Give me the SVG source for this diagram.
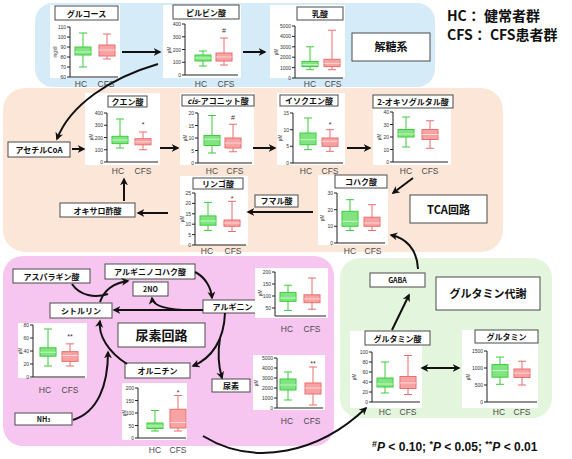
<svg xmlns="http://www.w3.org/2000/svg" width="572" height="459" viewBox="0 0 572 459">
<defs>
<marker id="ah" viewBox="0 0 10 10" refX="8" refY="5" markerWidth="4" markerHeight="4" orient="auto-start-reverse" markerUnits="strokeWidth">
<path d="M0,0L10,5L0,10L3,5z" fill="#111"/>
</marker>
<style>
.t{font-family:"Noto Sans CJK JP","Noto Sans",sans-serif;font-weight:bold;text-anchor:middle;fill:#111;font-size:8px}
.bx{fill:#fff;stroke:#4a4a4a;stroke-width:1}
.pn{fill:#fff}
.ax{fill:none;stroke:#222;stroke-width:1}
.tk{font-family:"Liberation Sans",sans-serif;font-size:5px;text-anchor:end;fill:#333}
.un{font-family:"Liberation Sans",sans-serif;font-size:4.5px;text-anchor:middle;fill:#333}
.xl{font-family:"Liberation Sans",sans-serif;font-size:8.5px;text-anchor:middle;fill:#4a4a4a}
.gw{stroke:#3ccb3c;stroke-width:1;fill:none}
.gb{fill:#80e580;stroke:#3ccb3c;stroke-width:1}
.gm{stroke:#c6f5c6;stroke-width:1}
.rw{stroke:#ec6d6d;stroke-width:1;fill:none}
.rb{fill:#f7a3a3;stroke:#ec6d6d;stroke-width:1}
.rm{stroke:#fcd5d5;stroke-width:1}
.sg{font-family:"Liberation Sans",sans-serif;font-size:7px;text-anchor:middle;fill:#333}
.c{fill:none;stroke:#111;stroke-width:2;marker-end:url(#ah)}
.big{font-size:11px}
.s7{font-size:7px}
.s13{font-size:13px}
</style>
</defs>
<rect width="572" height="459" fill="#fff"/>
<g id="regions">
<rect x="35" y="3" width="400" height="84" rx="18" fill="#d5ebf8"/>
<rect x="3" y="88" width="500" height="164" rx="22" fill="#fce6d8"/>
<rect x="3" y="256" width="331" height="190" rx="20" fill="#f7c6f0"/>
<rect x="340" y="258" width="212" height="160" rx="20" fill="#e3f5dc"/>
</g>
<g id="legend" font-family="'Noto Sans CJK JP',sans-serif" font-weight="bold" font-size="14" fill="#111">
<text x="447" y="21">HC： 健常者群</text>
<text x="447" y="40">CFS： CFS患者群</text>
</g>
<g id="glucose">
<rect class="pn" x="50" y="5" width="70" height="73"/>
<rect class="bx" x="55" y="6" width="63" height="14"/>
<text class="t" x="86.5" y="16.5">グルコース</text>
<path class="ax" d="M70,27V77H118M67,27h3M67,37h3M67,47h3M67,57h3M67,67h3M67,77h3"/>
<g class="tk"><text x="66" y="29">110</text><text x="66" y="39">100</text><text x="66" y="49">90</text><text x="66" y="59">80</text><text x="66" y="69">70</text><text x="66" y="79">60</text></g>
<text class="un" transform="translate(57,52) rotate(-90)">mg/dl</text>
<path class="gw" d="M83,33V67M79,33h8M79,67h8"/><rect class="gb" x="75" y="47" width="16" height="8"/><path class="gm" d="M75,52h16"/>
<path class="rw" d="M107,34V59M103,34h8M103,59h8"/><rect class="rb" x="99" y="45" width="16" height="11"/><path class="rm" d="M99,50h16"/>
<text class="xl" x="81" y="87">HC</text><text class="xl" x="106" y="87">CFS</text>
</g>
<g id="pyruvate">
<rect class="pn" x="163" y="5" width="78" height="73"/>
<rect class="bx" x="173" y="5" width="66" height="14"/>
<text class="t" x="206" y="15.5">ピルビン酸</text>
<path class="ax" d="M185,24V75H238M182,75h3M182,62.25h3M182,49.5h3M182,36.75h3M182,24h3"/>
<g class="tk"><text x="181" y="77">0</text><text x="181" y="64.25">100</text><text x="181" y="51.5">200</text><text x="181" y="38.75">300</text><text x="181" y="26">400</text></g>
<text class="un" transform="translate(171,50) rotate(-90)">µM</text>
<path class="gw" d="M203,51V66M199,51h8M199,66h8"/><rect class="gb" x="195" y="55" width="16" height="6"/><path class="gm" d="M195,58h16"/>
<path class="rw" d="M224,38V65M220,38h8M220,65h8"/><rect class="rb" x="216" y="53" width="16" height="8"/><path class="rm" d="M216,57h16"/>
<text class="sg" x="224" y="33">#</text>
<text class="xl" x="201" y="87">HC</text><text class="xl" x="226" y="87">CFS</text>
</g>
<g id="lactate">
<rect class="pn" x="270" y="5" width="75" height="73"/>
<rect class="bx" x="297" y="7" width="46" height="13"/>
<text class="t" x="320" y="17">乳酸</text>
<path class="ax" d="M295,26V78H343M292,78h3M292,67.6h3M292,57.2h3M292,46.8h3M292,36.4h3M292,26h3"/>
<g class="tk"><text x="291" y="80">0</text><text x="291" y="69.6">1000</text><text x="291" y="59.2">2000</text><text x="291" y="48.8">3000</text><text x="291" y="38.4">4000</text><text x="291" y="28">5000</text></g>
<text class="un" transform="translate(278,52) rotate(-90)">µM</text>
<path class="gw" d="M310,46.8V69.7M306,46.8h8M306,69.7h8"/><rect class="gb" x="302" y="61.4" width="16" height="5.2"/><path class="gm" d="M302,64.5h16"/>
<path class="rw" d="M332,30.2V69.7M328,30.2h8M328,69.7h8"/><rect class="rb" x="324" y="59.3" width="16" height="7.3"/><path class="rm" d="M324,63.4h16"/>
<text class="xl" x="310" y="87">HC</text><text class="xl" x="333" y="87">CFS</text>
</g>
<g id="glycolysis-label">
<rect class="bx" x="352" y="33" width="78" height="28"/>
<text class="t big" x="391" y="51">解糖系</text>
</g>
<g id="acetylcoa">
<rect class="bx" x="8" y="142" width="62" height="15"/>
<text class="t" x="39" y="152.5">アセチルCoA</text>
</g>
<g id="citrate">
<rect class="pn" x="85" y="93" width="75" height="72"/>
<rect class="bx" x="108" y="96" width="39" height="11"/>
<text class="t" x="127.5" y="104.5">クエン酸</text>
<path class="ax" d="M107,113V162H158M104,162h3M104,149.75h3M104,137.5h3M104,125.25h3M104,113h3"/>
<g class="tk"><text x="103" y="164">0</text><text x="103" y="151.75">100</text><text x="103" y="139.5">200</text><text x="103" y="127.25">300</text><text x="103" y="115">400</text></g>
<text class="un" transform="translate(93,137) rotate(-90)">µM</text>
<path class="gw" d="M120,119V148M116,119h8M116,148h8"/><rect class="gb" x="112" y="136.3" width="16" height="7.3"/><path class="gm" d="M112,140h16"/>
<path class="rw" d="M143,132V149.75M139,132h8M139,149.75h8"/><rect class="rb" x="135" y="138.7" width="16" height="6.15"/><path class="rm" d="M135,141.8h16"/>
<text class="sg" x="143" y="127">*</text>
<text class="xl" x="118" y="174">HC</text><text class="xl" x="143" y="174">CFS</text>
</g>
<g id="cis-aconitate">
<rect class="pn" x="180" y="93" width="74" height="72"/>
<rect class="bx" x="182" y="95" width="72" height="11"/>
<text class="t" x="218" y="103.5"><tspan font-style="italic">cis</tspan>-アコニット酸</text>
<path class="ax" d="M198,113V163H252M195,163h3M195,150.5h3M195,138h3M195,125.5h3M195,113h3"/>
<g class="tk"><text x="194" y="165">0</text><text x="194" y="152.5">5</text><text x="194" y="140">10</text><text x="194" y="127.5">15</text><text x="194" y="115">20</text></g>
<text class="un" transform="translate(187,138) rotate(-90)">µM</text>
<path class="gw" d="M212,115.5V153M208,115.5h8M208,153h8"/><rect class="gb" x="204" y="135.5" width="16" height="10"/><path class="gm" d="M204,139.25h16"/>
<path class="rw" d="M233,124.25V151.75M229,124.25h8M229,151.75h8"/><rect class="rb" x="225" y="138" width="16" height="10"/><path class="rm" d="M225,143h16"/>
<text class="sg" x="233" y="120">#</text>
<text class="xl" x="212" y="174">HC</text><text class="xl" x="235" y="174">CFS</text>
</g>
<g id="isocitrate">
<rect class="pn" x="277" y="93" width="68" height="72"/>
<rect class="bx" x="280" y="95" width="58" height="11"/>
<text class="t" x="309" y="103.5">イソクエン酸</text>
<path class="ax" d="M293,113V163H343M290,163h3M290,146.3h3M290,129.7h3M290,113h3"/>
<g class="tk"><text x="289" y="165">0</text><text x="289" y="148.3">5</text><text x="289" y="131.7">10</text><text x="289" y="115">15</text></g>
<text class="un" transform="translate(282,138) rotate(-90)">µM</text>
<path class="gw" d="M308,118V149.7M304,118h8M304,149.7h8"/><rect class="gb" x="300" y="133" width="16" height="11.7"/><path class="gm" d="M300,139.7h16"/>
<path class="rw" d="M330,129.7V151.3M326,129.7h8M326,151.3h8"/><rect class="rb" x="322" y="138" width="16" height="8.3"/><path class="rm" d="M322,141.3h16"/>
<text class="sg" x="330" y="127">*</text>
<text class="xl" x="306" y="174">HC</text><text class="xl" x="330" y="174">CFS</text>
</g>
<g id="oxoglutarate">
<rect class="pn" x="373" y="95" width="78" height="70"/>
<rect class="bx" x="373" y="95" width="80" height="13"/>
<text class="t" x="413" y="104.5">2-オキソグルタル酸</text>
<path class="ax" d="M393,112V162H448M390,162h3M390,149.5h3M390,137h3M390,124.5h3M390,112h3"/>
<g class="tk"><text x="389" y="164">0</text><text x="389" y="151.5">10</text><text x="389" y="139">20</text><text x="389" y="126.5">30</text><text x="389" y="114">40</text></g>
<text class="un" transform="translate(381,137) rotate(-90)">µM</text>
<path class="gw" d="M406,117V147M402,117h8M402,147h8"/><rect class="gb" x="398" y="129.5" width="16" height="7.5"/><path class="gm" d="M398,134h16"/>
<path class="rw" d="M430,120.75V148.25M426,120.75h8M426,148.25h8"/><rect class="rb" x="422" y="129.5" width="16" height="10"/><path class="rm" d="M422,134.5h16"/>
<text class="xl" x="406" y="174">HC</text><text class="xl" x="430" y="174">CFS</text>
</g>
<g id="succinate">
<rect class="pn" x="318" y="175" width="70" height="70"/>
<rect class="bx" x="335" y="175" width="52" height="13"/>
<text class="t" x="361" y="184.5">コハク酸</text>
<path class="ax" d="M337,193V243H385M334,243h3M334,226.3h3M334,209.7h3M334,193h3"/>
<g class="tk"><text x="333" y="245">0</text><text x="333" y="228.3">10</text><text x="333" y="211.7">20</text><text x="333" y="195">30</text></g>
<text class="un" transform="translate(324,218) rotate(-90)">µM</text>
<path class="gw" d="M350,199.7V230.5M346,199.7h8M346,230.5h8"/><rect class="gb" x="342" y="211.3" width="16" height="15"/><path class="gm" d="M342,221.3h16"/>
<path class="rw" d="M372,204.7V230.5M368,204.7h8M368,230.5h8"/><rect class="rb" x="364" y="217.2" width="16" height="9.1"/><path class="rm" d="M364,223h16"/>
<text class="xl" x="350" y="254">HC</text><text class="xl" x="373" y="254">CFS</text>
</g>
<g id="tca-label">
<rect class="bx" x="410" y="195" width="77" height="28"/>
<text class="t big" x="448.5" y="213.5">TCA回路</text>
</g>
<g id="fumarate">
<rect class="bx" x="255" y="195" width="43" height="12"/>
<text class="t" x="276.5" y="204">フマル酸</text>
</g>
<g id="malate">
<rect class="pn" x="180" y="176" width="68" height="69"/>
<rect class="bx" x="193" y="178" width="50" height="11"/>
<text class="t" x="218" y="186.5">リンゴ酸</text>
<path class="ax" d="M195,193V245H246M192,245h3M192,234.6h3M192,224.2h3M192,213.8h3M192,203.4h3M192,193h3"/>
<g class="tk"><text x="191" y="247">0</text><text x="191" y="236.6">5</text><text x="191" y="226.2">10</text><text x="191" y="215.8">15</text><text x="191" y="205.4">20</text><text x="191" y="195">25</text></g>
<text class="un" transform="translate(184,219) rotate(-90)">µM</text>
<path class="gw" d="M208,202.4V230.4M204,202.4h8M204,230.4h8"/><rect class="gb" x="200" y="215.9" width="16" height="9.3"/><path class="gm" d="M200,221h16"/>
<path class="rw" d="M232,201.3V231.5M228,201.3h8M228,231.5h8"/><rect class="rb" x="224" y="220" width="16" height="6.3"/><path class="rm" d="M224,223h16"/>
<text class="sg" x="232" y="201">*</text>
<text class="xl" x="207" y="254">HC</text><text class="xl" x="233" y="254">CFS</text>
</g>
<g id="oxaloacetate">
<rect class="bx" x="60" y="203" width="75" height="14"/>
<text class="t" x="97.5" y="213.5">オキサロ酢酸</text>
</g>
<g id="aspartate">
<rect class="bx" x="13" y="269" width="77" height="14"/>
<text class="t" x="51.5" y="279.5">アスパラギン酸</text>
</g>
<g id="argininosuccinate">
<rect class="bx" x="105" y="264" width="90" height="15"/>
<text class="t" x="150" y="275">アルギニノコハク酸</text>
</g>
<g id="no">
<rect class="bx" x="133" y="282" width="35" height="14"/>
<text class="t s7" x="150.5" y="292">2NO</text>
</g>
<g id="citrulline">
<rect class="bx" x="50" y="303" width="62" height="15"/>
<text class="t" x="81" y="313.5">シトルリン</text>
<rect class="pn" x="18" y="323" width="69" height="55"/>
<path class="ax" d="M33,325V377H85M30,377h3M30,364h3M30,351h3M30,338h3M30,325h3"/>
<g class="tk"><text x="29" y="379">0</text><text x="29" y="366">20</text><text x="29" y="353">40</text><text x="29" y="340">60</text><text x="29" y="327">80</text></g>
<text class="un" transform="translate(22,351) rotate(-90)">µM</text>
<path class="gw" d="M48,329V366M44,329h8M44,366h8"/><rect class="gb" x="40" y="347.75" width="16" height="8.45"/><path class="gm" d="M40,352.3h16"/>
<path class="rw" d="M70,343.85V366M66,343.85h8M66,366h8"/><rect class="rb" x="62" y="351.65" width="16" height="9.75"/><path class="rm" d="M62,355.5h16"/>
<text class="sg" x="70" y="339">**</text>
<text class="xl" x="45" y="393">HC</text><text class="xl" x="70" y="393">CFS</text>
</g>
<g id="urea-cycle-label">
<rect class="bx" x="118" y="323" width="87" height="24"/>
<text class="t s13" x="161.5" y="340">尿素回路</text>
</g>
<g id="arginine">
<rect class="bx" x="203" y="300" width="59" height="13"/>
<text class="t" x="232.5" y="310">アルギニン</text>
<rect class="pn" x="255" y="268" width="73" height="50"/>
<path class="ax" d="M275,272V316H326M272,308h3M272,296h3M272,284h3M272,272h3"/>
<g class="tk"><text x="271" y="310">50</text><text x="271" y="298">100</text><text x="271" y="286">150</text><text x="271" y="274">200</text></g>
<text class="un" transform="translate(262,293) rotate(-90)">µM</text>
<path class="gw" d="M288,285.2V310.4M284,285.2h8M284,310.4h8"/><rect class="gb" x="280" y="292.4" width="16" height="8.9"/><path class="gm" d="M280,298h16"/>
<path class="rw" d="M312,278V309.2M308,278h8M308,309.2h8"/><rect class="rb" x="304" y="294.8" width="16" height="7.9"/><path class="rm" d="M304,298.9h16"/>
<text class="xl" x="287" y="332">HC</text><text class="xl" x="312" y="332">CFS</text>
</g>
<g id="ornithine">
<rect class="bx" x="125" y="363" width="65" height="15"/>
<text class="t" x="157.5" y="374">オルニチン</text>
<rect class="pn" x="122" y="383" width="65" height="57"/>
<path class="ax" d="M138,388V438H186M135,438h3M135,425.5h3M135,413h3M135,400.5h3M135,388h3"/>
<g class="tk"><text x="134" y="440">0</text><text x="134" y="427.5">50</text><text x="134" y="415">100</text><text x="134" y="402.5">150</text><text x="134" y="390">200</text></g>
<text class="un" transform="translate(126,413) rotate(-90)">µM</text>
<path class="gw" d="M155,410.5V431M151,410.5h8M151,431h8"/><rect class="gb" x="147" y="423" width="16" height="5.5"/><path class="gm" d="M147,426h16"/>
<path class="rw" d="M178,395.5V431M174,395.5h8M174,431h8"/><rect class="rb" x="170" y="409.25" width="16" height="18.75"/><path class="rm" d="M170,422.5h16"/>
<text class="sg" x="178" y="395">*</text>
<text class="xl" x="155" y="453">HC</text><text class="xl" x="178" y="453">CFS</text>
</g>
<g id="urea">
<rect class="bx" x="212" y="379" width="38" height="13"/>
<text class="t" x="231" y="389">尿素</text>
<rect class="pn" x="253" y="355" width="72" height="55"/>
<path class="ax" d="M277,358V408H323M274,408h3M274,398h3M274,388h3M274,378h3M274,368h3M274,358h3"/>
<g class="tk"><text x="273" y="410">0</text><text x="273" y="400">1000</text><text x="273" y="390">2000</text><text x="273" y="380">3000</text><text x="273" y="370">4000</text><text x="273" y="360">5000</text></g>
<text class="un" transform="translate(258,383) rotate(-90)">µM</text>
<path class="gw" d="M288,372V400M284,372h8M284,400h8"/><rect class="gb" x="280" y="379" width="16" height="11"/><path class="gm" d="M280,385h16"/>
<path class="rw" d="M313,367V405M309,367h8M309,405h8"/><rect class="rb" x="305" y="383" width="16" height="11"/><path class="rm" d="M305,388h16"/>
<text class="sg" x="313" y="366">**</text>
<text class="xl" x="287" y="424">HC</text><text class="xl" x="312" y="424">CFS</text>
</g>
<g id="nh3">
<rect class="bx" x="15" y="413" width="57" height="12"/>
<text class="t s7" x="43.5" y="422">NH<tspan style="font-size:5px">3</tspan></text>
</g>
<g id="gaba">
<rect class="bx" x="370" y="273" width="55" height="14"/>
<text class="t s7" x="397.5" y="283">GABA</text>
</g>
<g id="glutamine-label">
<rect class="bx" x="436" y="277" width="104" height="33"/>
<text class="t big" x="488" y="297.5">グルタミン代謝</text>
</g>
<g id="glutamate">
<rect class="pn" x="350" y="331" width="72" height="77"/>
<rect class="bx" x="365" y="331" width="65" height="14"/>
<text class="t" x="397.5" y="341.5">グルタミン酸</text>
<path class="ax" d="M372,352V402H420M369,402h3M369,392h3M369,382h3M369,372h3M369,362h3M369,352h3"/>
<g class="tk"><text x="368" y="404">0</text><text x="368" y="394">20</text><text x="368" y="384">40</text><text x="368" y="374">60</text><text x="368" y="364">80</text><text x="368" y="354">100</text></g>
<text class="un" transform="translate(356,377) rotate(-90)">µM</text>
<path class="gw" d="M385,362V393M381,362h8M381,393h8"/><rect class="gb" x="377" y="378" width="16" height="9"/><path class="gm" d="M377,384h16"/>
<path class="rw" d="M408,355.5V394.5M404,355.5h8M404,394.5h8"/><rect class="rb" x="400" y="376.5" width="16" height="12"/><path class="rm" d="M400,383h16"/>
<text class="xl" x="385" y="415">HC</text><text class="xl" x="408" y="415">CFS</text>
</g>
<g id="glutamine">
<rect class="pn" x="462" y="330" width="76" height="78"/>
<rect class="bx" x="475" y="330" width="63" height="13"/>
<text class="t" x="506.5" y="340">グルタミン</text>
<path class="ax" d="M487,351V402H537M484,402h3M484,385h3M484,368h3M484,351h3"/>
<g class="tk"><text x="483" y="404">0</text><text x="483" y="387">500</text><text x="483" y="370">1000</text><text x="483" y="353">1500</text></g>
<text class="un" transform="translate(470,377) rotate(-90)">µM</text>
<path class="gw" d="M500,357.1V384.3M496,357.1h8M496,384.3h8"/><rect class="gb" x="492" y="364.6" width="16" height="12.6"/><path class="gm" d="M492,370.7h16"/>
<path class="rw" d="M522,361.2V385M518,361.2h8M518,385h8"/><rect class="rb" x="514" y="369" width="16" height="8.5"/><path class="rm" d="M514,373.1h16"/>
<text class="xl" x="499" y="415">HC</text><text class="xl" x="522" y="415">CFS</text>
</g>
<g id="connectors">
<path class="c" d="M122,52L160,52"/>
<path class="c" d="M243,52L265,52"/>
<path class="c" d="M158,64C110,78 70,105 57,139"/>
<path class="c" d="M72,149L84,149"/>
<path class="c" d="M160,148L178,148"/>
<path class="c" d="M253,148L275,148"/>
<path class="c" d="M347,148L370,148"/>
<path class="c" d="M413,178L393,193"/>
<path class="c" d="M313,212L248,212"/>
<path class="c" d="M168,213L138,213"/>
<path class="c" d="M124,201L124,179"/>
<path class="c" d="M418,269C417,248 405,238 391,235"/>
<path class="c" d="M72,284C80,296 95,298 108,294" style="marker-end:none"/>
<path class="c" d="M100,302C104,290 114,283 128,281"/>
<path class="c" d="M195,272C205,277 211,287 212,298"/>
<path class="c" d="M203,310L114,310"/>
<path class="c" d="M192,310C165,310 153,306 152,298"/>
<path class="c" d="M225,313C224,340 212,358 193,366"/>
<path class="c" d="M220,338C217,356 219,368 222,378"/>
<path class="c" d="M127,364C108,352 98,335 100,321"/>
<path class="c" d="M73,420C98,412 108,385 108,352"/>
<path class="c" d="M203,436C255,468 320,452 366,408"/>
<path class="c" d="M392,330L409,295"/>
<path class="c" d="M422,368L459,368" style="marker-start:url(#ah)"/>
</g>
<g id="footnote" font-family="'Liberation Sans',sans-serif" font-weight="bold" font-size="12" fill="#111">
<text x="372" y="451"><tspan font-size="9" dy="-4">#</tspan><tspan dy="4" font-style="italic">P</tspan> &lt; 0.10; <tspan font-size="9" dy="-4">*</tspan><tspan dy="4" font-style="italic">P</tspan> &lt; 0.05; <tspan font-size="9" dy="-4">**</tspan><tspan dy="4" font-style="italic">P</tspan> &lt; 0.01</text>
</g>
</svg>
